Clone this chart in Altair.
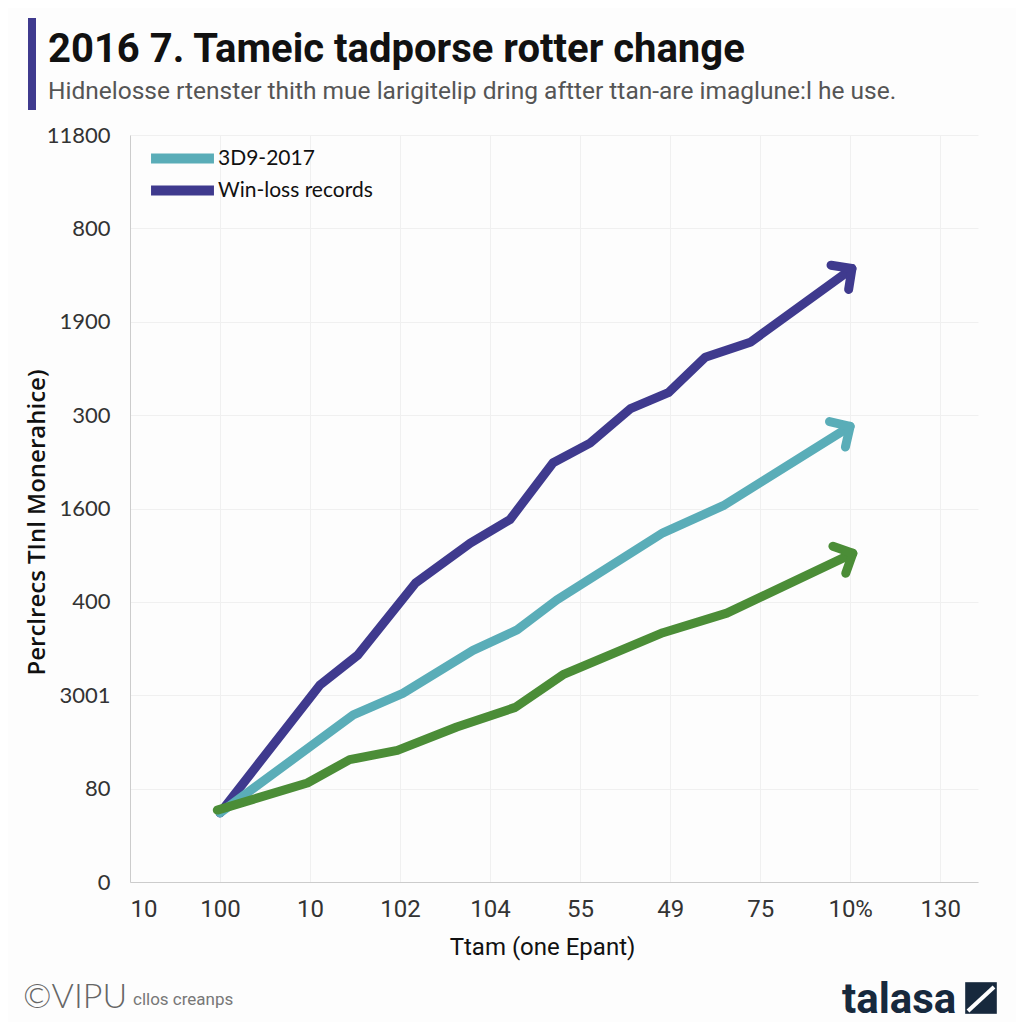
import json
import math
import altair as alt
import pandas as pd

# ---- data ----
x_labels = ["10", "100", "10", "102", "104", "55", "49", "75", "10%", "130"]
y_labels = ["0", "80", "3001", "400", "1600", "300", "1900", "800", "11800"]

series_names = ["3D9-2017", "Win-loss records", "Other"]
series_colors = ["#5aadb8", "#3f3a8e", "#4b8d37"]

navy_x = [1.0, 2.11, 2.53, 3.17, 3.78, 4.22, 4.70, 5.11, 5.56, 5.98, 6.39, 6.89, 8.02]
navy_y = [0.74, 2.11, 2.43, 3.20, 3.63, 3.88, 4.49, 4.70, 5.07, 5.24, 5.62, 5.78, 6.57]

teal_x = [1.0, 2.48, 3.03, 3.81, 4.30, 4.74, 5.92, 6.59, 8.0]
teal_y = [0.74, 1.79, 2.02, 2.48, 2.70, 3.02, 3.74, 4.03, 4.88]

green_x = [0.97, 1.97, 2.44, 2.97, 3.63, 4.28, 4.81, 5.92, 6.63, 8.03]
green_y = [0.77, 1.06, 1.31, 1.41, 1.66, 1.87, 2.22, 2.67, 2.88, 3.52]

title_text = "2016 7. Tameic tadporse rotter change"
subtitle_text = "Hidnelosse rtenster thith mue larigitelip dring aftter ttan-are imaglune:l he use."

# ---- layout ----
W, H = 848, 747
X_DOMAIN = [0, 9.42]
Y_DOMAIN = [0, 8]
ppx = W / (X_DOMAIN[1] - X_DOMAIN[0])
ppy = H / (Y_DOMAIN[1] - Y_DOMAIN[0])

rows = []
heads = []
for name, xs, ys in [("Win-loss records", navy_x, navy_y),
                     ("3D9-2017", teal_x, teal_y),
                     ("Other", green_x, green_y)]:
    for i, (xv, yv) in enumerate(zip(xs, ys)):
        rows.append({"series": name, "x": xv, "y": yv, "i": i})
    theta = math.degrees(math.atan2((ys[-1] - ys[-2]) * ppy, (xs[-1] - xs[-2]) * ppx))
    heads.append({"series": name, "x": xs[-1], "y": ys[-1], "angle": (360 - theta) % 360})

df = pd.DataFrame(rows)
dh = pd.DataFrame(heads)

color = alt.Color(
    "series:N",
    scale=alt.Scale(domain=series_names, range=series_colors),
    legend=alt.Legend(
        values=["3D9-2017", "Win-loss records"],
        title=None,
        orient="none",
        legendX=42,
        legendY=13,
        symbolType="M -6 0 L 6 0",
        symbolSize=110,
        symbolStrokeWidth=10,
        labelOffset=25,
        labelFont="Lato",
        labelFontSize=21,
        labelColor="#111111",
        rowPadding=-9,
        padding=0,
    ),
)

x_enc = alt.X(
    "x:Q",
    scale=alt.Scale(domain=X_DOMAIN, nice=False, zero=False),
    axis=alt.Axis(
        values=list(range(len(x_labels))),
        labelExpr=json.dumps(x_labels) + "[datum.value]",
        title="Ttam (one Epant)",
        labelFont="Roboto",
        labelFontSize=24,
        labelColor="#333333",
        labelPadding=15,
        titleFont="Roboto",
        titleFontSize=24,
        titleFontWeight="normal",
        titleColor="#111111",
        titlePadding=14,
        titleX=412,
        ticks=False,
        domainColor="#cccccc",
        gridColor="#f0f0f0",
    ),
)
y_enc = alt.Y(
    "y:Q",
    scale=alt.Scale(domain=Y_DOMAIN, nice=False),
    axis=alt.Axis(
        values=list(range(len(y_labels))),
        labelExpr=json.dumps(y_labels) + "[datum.value]",
        title="Perclrecs TInl Monerahice)",
        labelFont="Lato",
        labelFontSize=22,
        labelColor="#333333",
        labelPadding=20,
        titleFont="Open Sans",
        titleFontSize=24,
        titleFontWeight=600,
        titleColor="#111111",
        titleX=-93,
        titleY=387,
        titleAngle=270,
        titleAlign="center",
        titleBaseline="middle",
        ticks=False,
        domainColor="#cccccc",
        gridColor="#f0f0f0",
    ),
)

lines = alt.Chart(df).mark_line(
    strokeWidth=9, strokeCap="round", strokeJoin="round"
).encode(
    x=x_enc, y=y_enc, color=color, order="i:Q", detail="series:N"
)

arrows = alt.Chart(dh).mark_point(
    shape="M -1 -1 L 0 0 L -1 1",
    filled=False,
    size=900,
    strokeWidth=9,
    strokeCap="round",
    strokeJoin="round",
    opacity=1,
).encode(
    x="x:Q", y="y:Q",
    color=alt.Color("series:N", scale=alt.Scale(domain=series_names, range=series_colors), legend=None),
    angle=alt.Angle("angle:Q", scale=None),
)

one = alt.Data(values=[{"k": 1}])

accent = alt.Chart(one).mark_rule(color="#3f3a8e", strokeWidth=8).encode(
    x=alt.value(-98), y=alt.value(-117), y2=alt.value(-25)
)

title_mark = alt.Chart(one).mark_text(
    text=title_text, font="Roboto", fontSize=40, fontWeight="bold", color="#111111",
    align="left", baseline="alphabetic"
).encode(x=alt.value(-82), y=alt.value(-73))

subtitle_mark = alt.Chart(one).mark_text(
    text=subtitle_text, font="Roboto", fontSize=24.5, color="#555555",
    align="left", baseline="alphabetic"
).encode(x=alt.value(-82), y=alt.value(-36))

copy1 = alt.Chart(one).mark_text(
    text="©VIPU", font="Lato", fontSize=34, fontWeight=300, color="#666666",
    align="left", baseline="alphabetic"
).encode(x=alt.value(-107), y=alt.value(873))

copy2 = alt.Chart(one).mark_text(
    text="cllos creanps", font="Roboto", fontSize=17, color="#777777",
    align="left", baseline="alphabetic"
).encode(x=alt.value(3), y=alt.value(870))

logo = alt.Chart(one).mark_text(
    text="talasa", font="Roboto", fontSize=42, fontWeight="bold", color="#17293d",
    align="left", baseline="alphabetic"
).encode(x=alt.value(712), y=alt.value(878))

logo_box = alt.Chart(one).mark_point(
    shape="square", filled=True, size=1000, color="#17293d", opacity=1
).encode(x=alt.value(851), y=alt.value(863))

logo_slash = alt.Chart(one).mark_rule(color="#ffffff", strokeWidth=4).encode(
    x=alt.value(838), y=alt.value(876), x2=alt.value(864), y2=alt.value(852)
)

chart = alt.layer(
    lines, arrows, accent, title_mark, subtitle_mark, copy1, copy2, logo, logo_box, logo_slash
).properties(
    width=W,
    height=H,
    autosize=alt.AutoSizeParams(type="none"),
    padding={"left": 122, "top": 127, "right": 38, "bottom": 140},
    background="#fdfdfd",
).configure_view(stroke=None).configure_axis(grid=True)

chart.save("out.html", embed_options={"renderer": "svg", "actions": False})
